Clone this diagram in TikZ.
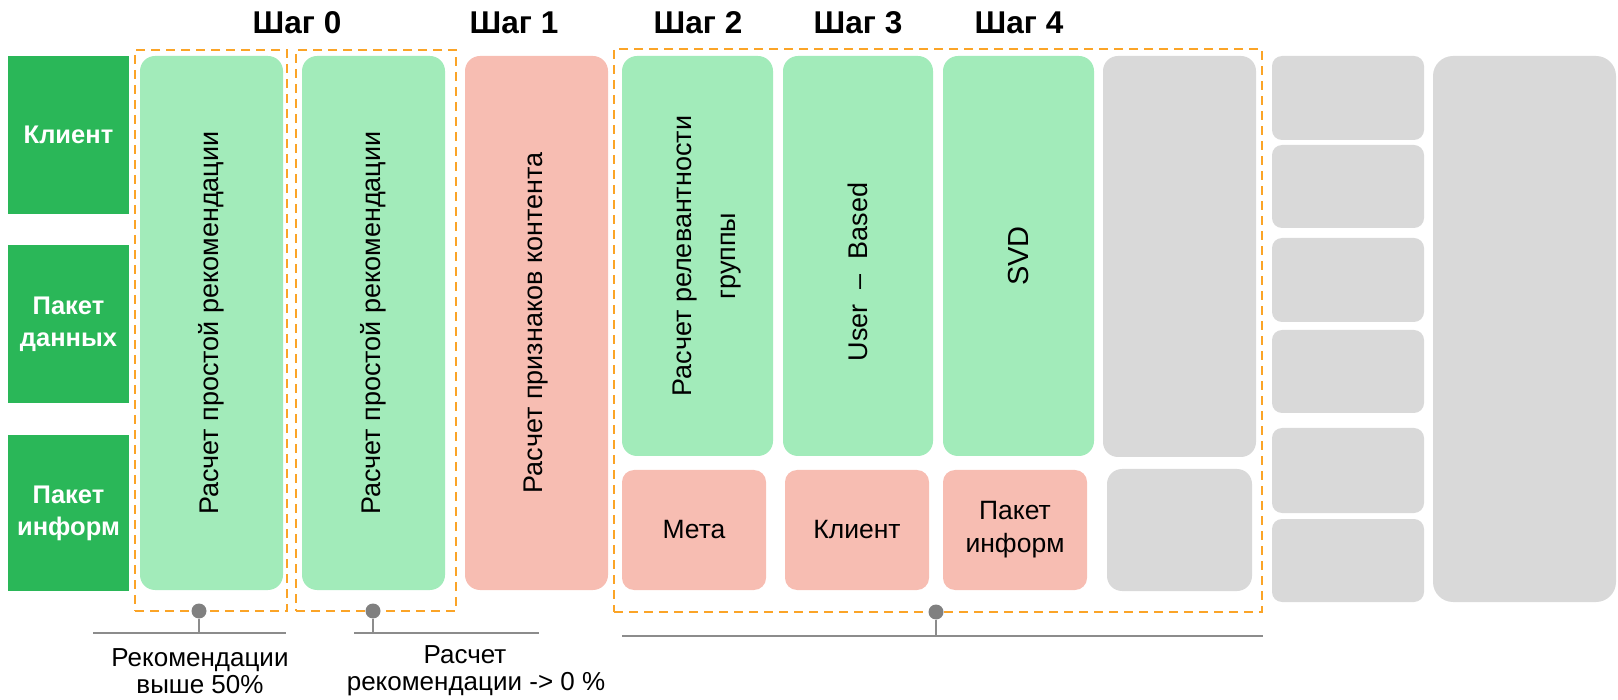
\documentclass[tikz,border=0pt]{standalone}
\usepackage{fontspec}
\setmainfont{Liberation Sans}
\definecolor{dgreen}{HTML}{2AB758}
\definecolor{lgreen}{HTML}{A2EBBA}
\definecolor{lpink}{HTML}{F7BDB2}
\definecolor{lgray}{HTML}{D9D9D9}
\definecolor{orng}{HTML}{FBA427}
\definecolor{dgray}{HTML}{808080}
\definecolor{lngray}{HTML}{8C8C8C}
\newcommand{\bx}[7]{\node[#1, minimum width={(#5-#3)*1pt}, minimum height={(#6-#4)*1pt}] (#2) at ({(#3+#5)/2},{(#4+#6)/2}) {#7};}
\begin{document}
\begin{tikzpicture}[x=1pt,y=-1pt,
  base/.style={inner sep=0pt, outer sep=0pt, draw=none},
  rowlbl/.style={base, fill=dgreen, text=white, font=\fontsize{25.5}{32}\selectfont\bfseries, align=center},
  gcol/.style={base, fill=lgreen, rounded corners=15pt},
  pcol/.style={base, fill=lpink, rounded corners=15pt},
  psmall/.style={base, fill=lpink, rounded corners=12pt, font=\fontsize{26.5}{33}\selectfont, align=center},
  graybox/.style={base, fill=lgray, rounded corners=15pt},
  graysmall/.style={base, fill=lgray, rounded corners=10pt},
  graybig/.style={base, fill=lgray, rounded corners=20pt},
  dashbox/.style={base, draw=orng, line width=2.6pt, dash pattern=on 9pt off 6pt},
  vtext/.style={inner sep=0pt, rotate=90, font=\fontsize{27}{44}\selectfont, align=center},
  title/.style={inner sep=0pt, font=\fontsize{31.5}{36}\selectfont\bfseries},
  note/.style={inner sep=0pt, font=\fontsize{26}{27}\selectfont, align=center},
  dot/.style={circle, fill=dgray, inner sep=0pt, minimum size=15pt},
  stem/.style={draw=lngray, line width=2.2pt},
  bar/.style={draw=lngray, line width=2.2pt}
]
\useasboundingbox (0,0) rectangle (1618,700);

% row labels
\bx{rowlbl}{rClient}{8}{56}{129}{214}{Клиент}
\bx{rowlbl}{rData}{8}{245}{129}{403}{Пакет\\данных}
\bx{rowlbl}{rInfo}{8}{435}{129}{591}{Пакет\\информ}

% dashed groups
\bx{dashbox}{g0a}{135}{50}{287}{611}{}
\bx{dashbox}{g0b}{296}{50}{456}{611}{}
\bx{dashbox}{g24}{614}{49}{1262}{612}{}

% step 0 / 1 columns
\bx{gcol}{c1}{140}{56}{283}{590}{}
\bx{gcol}{c2}{302}{56}{445}{590}{}
\bx{pcol}{c3}{465}{56}{608}{590}{}
\node[vtext] (t1) at (c1.center) {Расчет простой рекомендации};
\node[vtext] (t2) at (c2.center) {Расчет простой рекомендации};
\node[vtext] (t3) at (c3.center) {Расчет признаков контента};

% steps 2-4 upper
\bx{gcol}{s2}{622}{56}{773}{456}{}
\bx{gcol}{s3}{783}{56}{933}{456}{}
\bx{gcol}{s4}{943}{56}{1094}{456}{}
\bx{graybox}{s5}{1103}{56}{1256}{457}{}
\node[vtext] (t4) at ([xshift=10pt]s2.center) {Расчет релевантности\\группы};
\node[vtext] (t5) at ([yshift=-16pt]s3.center) {User\hspace{0.55em}–\hspace{0.55em}Based};
\node[vtext, font=\fontsize{29}{44}\selectfont] (t6) at (s4.center) {SVD};

% steps 2-4 lower
\bx{psmall}{m2}{622}{470}{766}{590}{Мета}
\bx{psmall}{m3}{785}{470}{929}{590}{Клиент}
\bx{psmall}{m4}{943}{470}{1087}{590}{Пакет\\информ}
\bx{graybox}{m5}{1107}{469}{1252}{591}{}

% right gray column
\bx{graysmall}{k1}{1272}{56}{1424}{140}{}
\bx{graysmall}{k2}{1272}{145}{1424}{228}{}
\bx{graysmall}{k3}{1272}{238}{1424}{322}{}
\bx{graysmall}{k4}{1272}{330}{1424}{413}{}
\bx{graysmall}{k5}{1272}{428}{1424}{513}{}
\bx{graysmall}{k6}{1272}{519}{1424}{602}{}
\bx{graybig}{kb}{1433}{56}{1616}{602}{}

% titles
\node[title] (h0) at (297,23) {Шаг 0};
\node[title] (h1) at (514,23) {Шаг 1};
\node[title] (h2) at (698,23) {Шаг 2};
\node[title] (h3) at (858,23) {Шаг 3};
\node[title] (h4) at (1019,23) {Шаг 4};

% brackets below
\node[dot] (d1) at (199,611) {};
\node[dot] (d2) at (373,611) {};
\node[dot] (d3) at (936,612) {};
\coordinate (b1) at (199,633);
\coordinate (b2) at (373,633);
\coordinate (b3) at (936,636);
\coordinate (b1l) at (93,633);
\coordinate (b1r) at (286,633);
\coordinate (b2l) at (354,633);
\coordinate (b2r) at (539,633);
\coordinate (b3l) at (622,636);
\coordinate (b3r) at (1263,636);
\draw[stem] (d1) -- (b1);
\draw[stem] (d2) -- (b2);
\draw[stem] (d3) -- (b3);
\draw[bar] (b1l) -- (b1r);
\draw[bar] (b2l) -- (b2r);
\draw[bar] (b3l) -- (b3r);

\node[note] (n1) at (200,671) {Рекомендации\\выше 50\%};
\node[note] (n2) at (476,671) {\hspace*{-22pt}Расчет\\рекомендации -> 0 \%};
\end{tikzpicture}
\end{document}
